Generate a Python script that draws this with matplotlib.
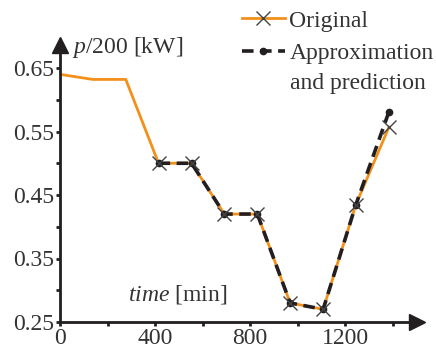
import matplotlib
matplotlib.use("Agg")
import matplotlib.pyplot as plt
from matplotlib.lines import Line2D

plt.rcParams['font.family'] = ['Liberation Serif', 'DejaVu Serif']
plt.rcParams['mathtext.fontset'] = 'custom'
plt.rcParams['mathtext.rm'] = 'Liberation Serif'
plt.rcParams['mathtext.it'] = 'Liberation Serif:italic'

# data
time = [0, 138, 277, 415, 554, 692, 831, 969, 1108, 1246, 1385]
original = [0.64, 0.632, 0.632, 0.50, 0.50, 0.42, 0.42, 0.28, 0.27, 0.435, 0.557]
approx_time = [415, 554, 692, 831, 969, 1108, 1246, 1385]
approx = [0.50, 0.50, 0.42, 0.42, 0.28, 0.27, 0.435, 0.581]

orange = '#F39019'
dark = '#231F20'
txt = '#333333'

W, H = 436, 354
fig = plt.figure(figsize=(W / 100, H / 100), dpi=100)
ax = fig.add_axes([60/W, 32/H, 357/W, 277/H])

ax.plot(time, original, color=orange, lw=2, zorder=2)
ax.plot(time[3:], original[3:], ls='none', marker='x', ms=10, mew=1, color='#444444', zorder=4)
ax.plot(approx_time, approx, color=dark, lw=2.6, ls=(0, (3.2, 1.8)),
        marker='o', ms=4.5, zorder=3)

xmax = (417 - 60) / 0.2375
ymax = 0.25 + (322 - 45) / 635
ax.set_xlim(0, xmax)
ax.set_ylim(0.25, ymax)

for s in ['top', 'right']:
    ax.spines[s].set_visible(False)
for s in ['left', 'bottom']:
    ax.spines[s].set_linewidth(2)
    ax.spines[s].set_color(dark)

# arrow heads on the axes
ax.plot(1, 0, '>', color=dark, ms=11, transform=ax.transAxes, clip_on=False)
ax.plot(0, 1, '^', color=dark, ms=11, transform=ax.transAxes, clip_on=False)

ax.set_xticks([0, 400, 800, 1200])
ax.set_xticks([200, 600, 1000, 1400], minor=True)
ax.set_yticks([0.25, 0.35, 0.45, 0.55, 0.65])
ax.set_yticklabels(['0.25', '0.35', '0.45', '0.55', '0.65'])
ax.set_yticks([0.30, 0.40, 0.50, 0.60], minor=True)
ax.tick_params(which='both', direction='out', length=3, width=2, color=dark,
               labelsize=17, labelcolor=txt, pad=1)

ax.text(72, H - 53, r'$p$/200 [kW]', transform=None, fontsize=17, color=txt,
        va='baseline', ha='left')
ax.text(128, H - 300, r'$time$ [min]', transform=None, fontsize=17, color=txt,
        va='baseline', ha='left')

handles = [Line2D([], [], color=orange, lw=2, marker='x', ms=10, mew=1, mec='#444444'),
           Line2D([], [], color=dark, lw=2.6, ls=(0, (3.2, 1.8)), marker='o', ms=4.5)]
fig.legend(handles, ['Original', 'Approximation'],
           loc='upper left', bbox_to_anchor=(228/W, 1 + 4/H), frameon=False,
           fontsize=17, handlelength=1.8, handletextpad=0.2, labelspacing=0.45,
           borderpad=0.1, labelcolor=txt)
fig.text(290/W, 1 - 89/H, 'and prediction', fontsize=17, color=txt,
         va='baseline', ha='left')

fig.savefig('out.png', dpi=100)
